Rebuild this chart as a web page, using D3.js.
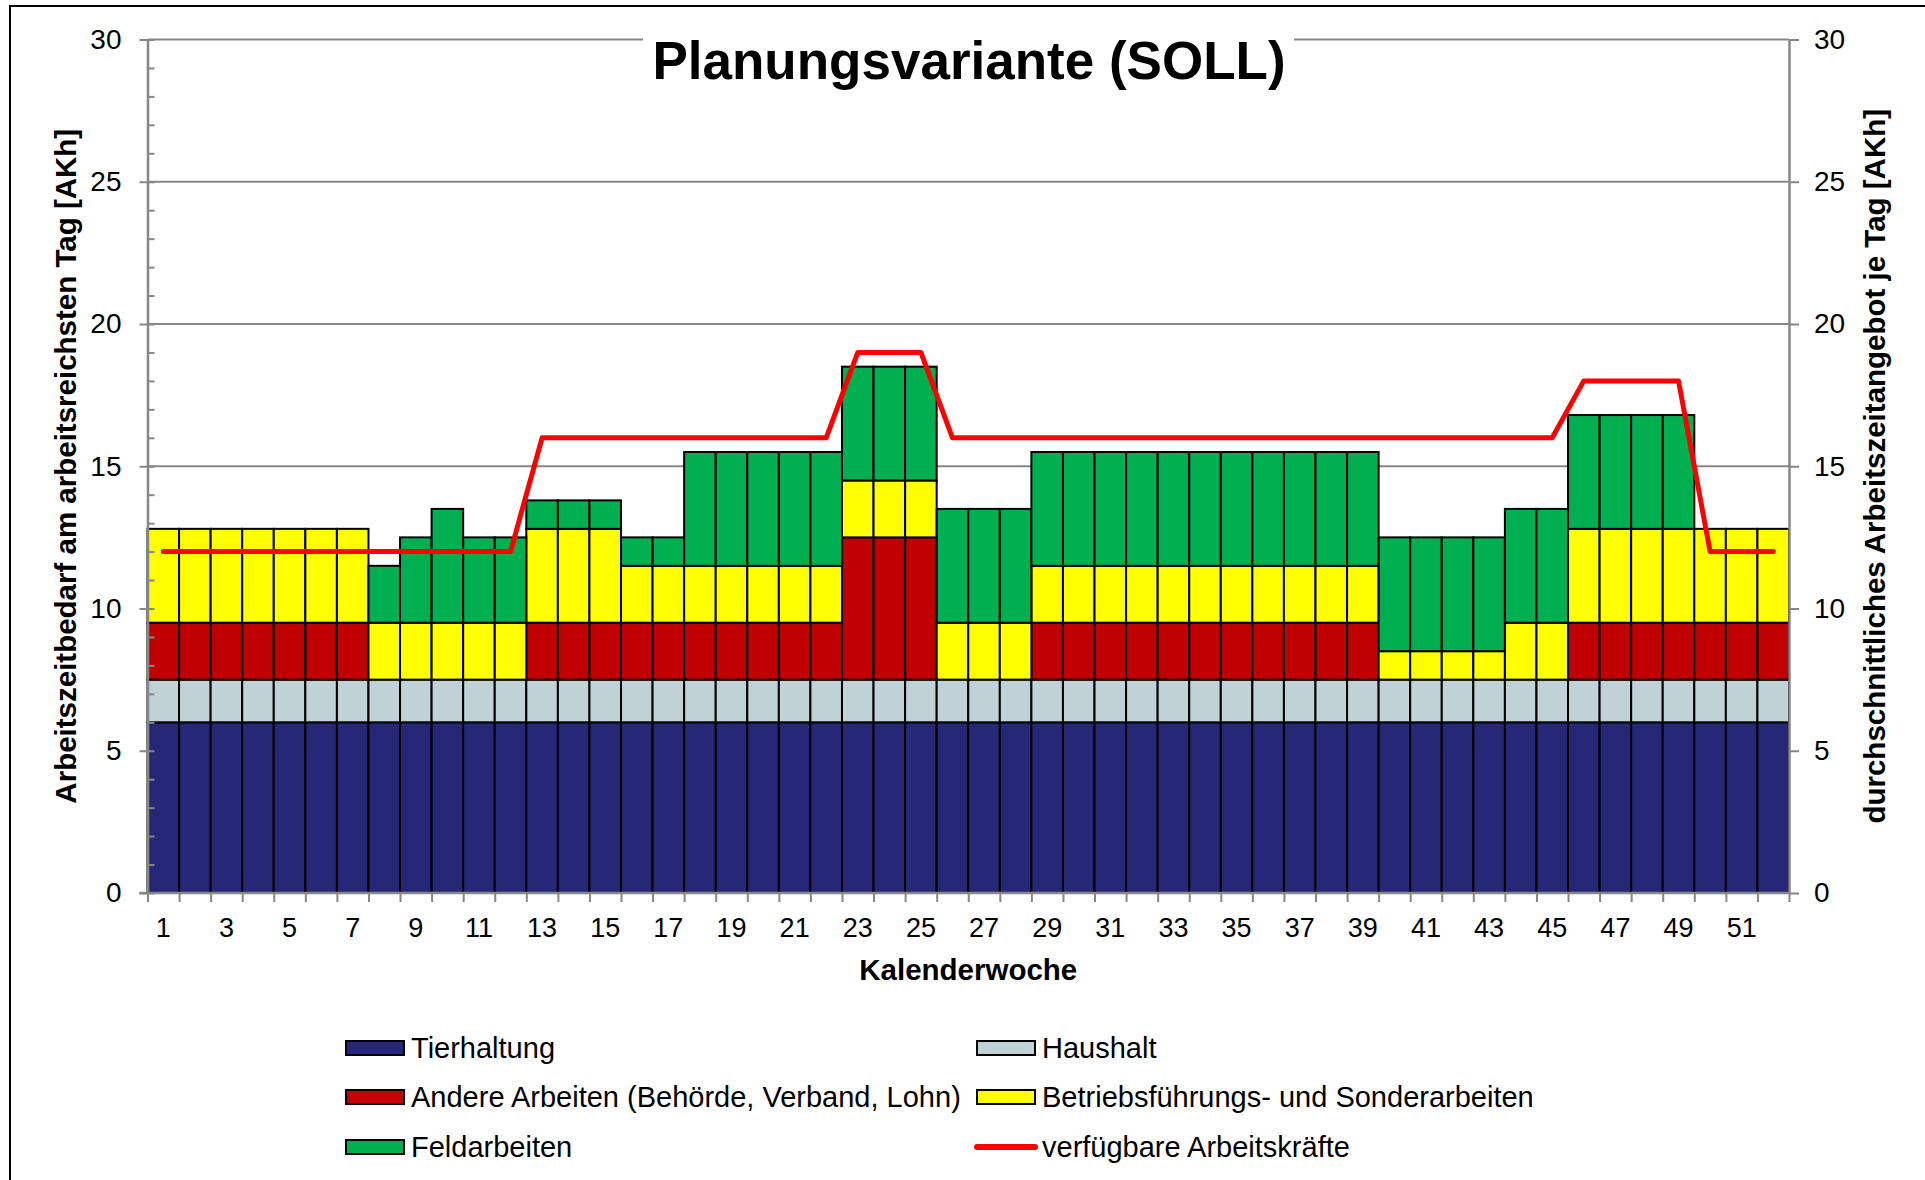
<!DOCTYPE html>
<html>
<head>
<meta charset="utf-8">
<script src="https://cdn.jsdelivr.net/npm/d3@7/dist/d3.min.js"></script>
<style>
  body { margin: 0; background: #fff; }
  svg text { font-family: "Liberation Sans", Arial, sans-serif; fill: #000; }
</style>
</head>
<body>
<div id="chart"></div>
<script>
// Kalenderwochen
const weeks = [1, 2, 3, 4, 5, 6, 7, 8, 9, 10, 11, 12, 13, 14, 15, 16, 17, 18, 19, 20, 21, 22, 23, 24, 25, 26,
               27, 28, 29, 30, 31, 32, 33, 34, 35, 36, 37, 38, 39, 40, 41, 42, 43, 44, 45, 46, 47, 48, 49, 50, 51, 52];

// AKh am arbeitsreichsten Tag, je Woche
const tierhaltung = [6, 6, 6, 6, 6, 6, 6, 6, 6, 6, 6, 6, 6, 6, 6, 6, 6, 6, 6, 6, 6, 6, 6, 6, 6, 6,
                     6, 6, 6, 6, 6, 6, 6, 6, 6, 6, 6, 6, 6, 6, 6, 6, 6, 6, 6, 6, 6, 6, 6, 6, 6, 6];
const haushalt = [1.5, 1.5, 1.5, 1.5, 1.5, 1.5, 1.5, 1.5, 1.5, 1.5, 1.5, 1.5, 1.5, 1.5, 1.5, 1.5, 1.5, 1.5, 1.5, 1.5, 1.5, 1.5, 1.5, 1.5, 1.5, 1.5,
                  1.5, 1.5, 1.5, 1.5, 1.5, 1.5, 1.5, 1.5, 1.5, 1.5, 1.5, 1.5, 1.5, 1.5, 1.5, 1.5, 1.5, 1.5, 1.5, 1.5, 1.5, 1.5, 1.5, 1.5, 1.5, 1.5];
const andereArbeiten = [2, 2, 2, 2, 2, 2, 2, 0, 0, 0, 0, 0, 2, 2, 2, 2, 2, 2, 2, 2, 2, 2, 5, 5, 5, 0,
                        0, 0, 2, 2, 2, 2, 2, 2, 2, 2, 2, 2, 2, 0, 0, 0, 0, 0, 0, 2, 2, 2, 2, 2, 2, 2];
const betriebsfuehrung = [3.3, 3.3, 3.3, 3.3, 3.3, 3.3, 3.3, 2, 2, 2, 2, 2, 3.3, 3.3, 3.3, 2, 2, 2, 2, 2, 2, 2, 2, 2, 2, 2,
                          2, 2, 2, 2, 2, 2, 2, 2, 2, 2, 2, 2, 2, 1, 1, 1, 1, 2, 2, 3.3, 3.3, 3.3, 3.3, 3.3, 3.3, 3.3];
const feldarbeiten = [0, 0, 0, 0, 0, 0, 0, 2, 3, 4, 3, 3, 1, 1, 1, 1, 1, 4, 4, 4, 4, 4, 4, 4, 4, 4,
                      4, 4, 4, 4, 4, 4, 4, 4, 4, 4, 4, 4, 4, 4, 4, 4, 4, 4, 4, 4, 4, 4, 4, 0, 0, 0];

// verfügbare Arbeitskräfte (Sekundärachse)
const arbeitskraefte = [12, 12, 12, 12, 12, 12, 12, 12, 12, 12, 12, 12, 16, 16, 16, 16, 16, 16, 16, 16, 16, 16, 19, 19, 19, 16,
                        16, 16, 16, 16, 16, 16, 16, 16, 16, 16, 16, 16, 16, 16, 16, 16, 16, 16, 16, 18, 18, 18, 18, 12, 12, 12];

const yTicks = [0, 5, 10, 15, 20, 25, 30];
const xTickLabels = [1, 3, 5, 7, 9, 11, 13, 15, 17, 19, 21, 23, 25, 27, 29, 31, 33, 35, 37, 39, 41, 43, 45, 47, 49, 51];

const seriesKeys = ["tier", "haus", "andere", "betrieb", "feld"];
const seriesNames = {
  tier: "Tierhaltung",
  haus: "Haushalt",
  andere: "Andere Arbeiten (Behörde, Verband, Lohn)",
  betrieb: "Betriebsführungs- und Sonderarbeiten",
  feld: "Feldarbeiten"
};
const seriesColors = {
  tier: "#262777",
  haus: "#C0D2D5",
  andere: "#C00000",
  betrieb: "#FFFF00",
  feld: "#00AF50"
};
const lineName = "verfügbare Arbeitskräfte";

const width = 1925, height = 1180;
const plotLeft = 147.5, plotRight = 1789, plotTop = 39.5, plotBottom = 893;
const axisColor = "#878787";

const rows = weeks.map((w, i) => ({
  week: w,
  tier: tierhaltung[i],
  haus: haushalt[i],
  andere: andereArbeiten[i],
  betrieb: betriebsfuehrung[i],
  feld: feldarbeiten[i],
  ak: arbeitskraefte[i]
}));

const svg = d3.select("#chart")
  .append("svg")
  .attr("width", width)
  .attr("height", height);

// outer frame (runs off the right / bottom edge like in the original)
svg.append("rect")
  .attr("x", 10).attr("y", 6)
  .attr("width", width + 20).attr("height", height + 20)
  .attr("fill", "#fff")
  .attr("stroke", "#000")
  .attr("stroke-width", 2);

const x = d3.scaleBand().domain(weeks).range([plotLeft, plotRight]).padding(0);
const xEdges = d3.scaleLinear().domain([0, weeks.length]).range([plotLeft, plotRight]);
const y = d3.scaleLinear().domain([0, 30]).range([plotBottom, plotTop]);
const y2 = d3.scaleLinear().domain([0, 30]).range([plotBottom, plotTop]); // secondary axis, same range

// gridlines
svg.append("g")
  .selectAll("line")
  .data(yTicks.filter(t => t > 0))
  .enter()
  .append("line")
  .attr("x1", plotLeft).attr("x2", plotRight)
  .attr("y1", d => y(d)).attr("y2", d => y(d))
  .attr("stroke", axisColor)
  .attr("stroke-width", 2);

// stacked bars
const stacked = d3.stack().keys(seriesKeys)(rows);
svg.append("g")
  .selectAll("g")
  .data(stacked)
  .enter()
  .append("g")
  .attr("fill", s => seriesColors[s.key])
  .selectAll("rect")
  .data(s => s.filter(d => d[1] - d[0] > 0))
  .enter()
  .append("rect")
  .attr("x", d => x(d.data.week))
  .attr("width", x.bandwidth())
  .attr("y", d => y(d[1]))
  .attr("height", d => y(d[0]) - y(d[1]))
  .attr("stroke", "#000")
  .attr("stroke-width", 2);

// available workers line
const line = d3.line()
  .x(d => x(d.week) + x.bandwidth() / 2)
  .y(d => y2(d.ak));
svg.append("path")
  .datum(rows)
  .attr("d", line)
  .attr("fill", "none")
  .attr("stroke", "#FF0000")
  .attr("stroke-width", 5)
  .attr("stroke-linejoin", "round")
  .attr("stroke-linecap", "round");

function styleAxis(g) {
  g.select(".domain").attr("stroke", axisColor).attr("stroke-width", 2.5);
  g.selectAll(".tick line").attr("stroke", axisColor).attr("stroke-width", 2);
  g.selectAll(".tick text").attr("font-family", "Liberation Sans, Arial, sans-serif").attr("fill", "#000");
}

// left axis: minor ticks inward, major outward
svg.append("g")
  .attr("transform", `translate(${plotLeft},0)`)
  .call(d3.axisLeft(y).tickValues(d3.range(0, 31, 1)).tickSize(-7).tickFormat(""))
  .call(g => g.select(".domain").remove())
  .call(g => g.selectAll(".tick line").attr("stroke", axisColor).attr("stroke-width", 2));
svg.append("g")
  .attr("transform", `translate(${plotLeft},0)`)
  .call(d3.axisLeft(y).tickValues(yTicks).tickSize(8).tickSizeOuter(0).tickPadding(18))
  .call(styleAxis)
  .call(g => g.selectAll(".tick text").attr("font-size", 28));

// right axis
svg.append("g")
  .attr("transform", `translate(${plotRight},0)`)
  .call(d3.axisRight(y2).tickValues(yTicks).tickSize(10).tickSizeOuter(0).tickPadding(15))
  .call(styleAxis)
  .call(g => g.selectAll(".tick text").attr("font-size", 28));

// bottom axis: tick marks at band edges, labels at odd weeks
svg.append("g")
  .attr("transform", `translate(0,${plotBottom})`)
  .call(d3.axisBottom(xEdges).tickValues(d3.range(0, weeks.length + 1)).tickSize(9).tickSizeOuter(0).tickFormat(""))
  .call(styleAxis)
  .call(g => g.select(".domain").attr("d", `M${plotLeft - 8},0H${plotRight}`));
svg.append("g")
  .attr("transform", `translate(0,${plotBottom})`)
  .call(d3.axisBottom(x).tickValues(xTickLabels).tickSize(0).tickPadding(25))
  .call(g => g.select(".domain").remove())
  .call(g => g.selectAll(".tick text").attr("font-size", 27).attr("font-family", "Liberation Sans, Arial, sans-serif"));

// axis titles
svg.append("text")
  .attr("transform", `translate(76,${(plotTop + plotBottom) / 2}) rotate(-90)`)
  .attr("text-anchor", "middle")
  .attr("font-size", 29.5)
  .attr("font-weight", "bold")
  .text("Arbeitszeitbedarf am arbeitsreichsten Tag [AKh]");
svg.append("text")
  .attr("transform", `translate(1885,${(plotTop + plotBottom) / 2}) rotate(-90)`)
  .attr("text-anchor", "middle")
  .attr("font-size", 29.5)
  .attr("font-weight", "bold")
  .text("durchschnittliches Arbeitszeitangebot je Tag [AKh]");
svg.append("text")
  .attr("x", (plotLeft + plotRight) / 2)
  .attr("y", 980)
  .attr("text-anchor", "middle")
  .attr("font-size", 29.5)
  .attr("font-weight", "bold")
  .text("Kalenderwoche");

// title with white box over the top gridline
svg.append("rect")
  .attr("x", 643).attr("y", 22)
  .attr("width", 651).attr("height", 80)
  .attr("fill", "#fff");
svg.append("text")
  .attr("x", 969)
  .attr("y", 79)
  .attr("text-anchor", "middle")
  .attr("font-size", 53)
  .attr("font-weight", "bold")
  .text("Planungsvariante (SOLL)");

// legend
const legendItems = [
  {key: "tier", col: 0, row: 0},
  {key: "haus", col: 1, row: 0},
  {key: "andere", col: 0, row: 1},
  {key: "betrieb", col: 1, row: 1},
  {key: "feld", col: 0, row: 2},
  {key: "line", col: 1, row: 2}
];
const legendColX = [346, 977];
const legendRowY = [1048, 1097, 1147];

const legend = svg.append("g")
  .selectAll("g")
  .data(legendItems)
  .enter()
  .append("g")
  .attr("transform", d => `translate(${legendColX[d.col]},${legendRowY[d.row]})`);

legend.filter(d => d.key !== "line")
  .append("rect")
  .attr("x", 0).attr("y", -7)
  .attr("width", 58).attr("height", 14)
  .attr("fill", d => seriesColors[d.key])
  .attr("stroke", "#000")
  .attr("stroke-width", 2);
legend.filter(d => d.key === "line")
  .append("line")
  .attr("x1", 0).attr("x2", 58)
  .attr("y1", 0).attr("y2", 0)
  .attr("stroke", "#FF0000")
  .attr("stroke-width", 6)
  .attr("stroke-linecap", "round");
legend.append("text")
  .attr("x", 65)
  .attr("y", 10)
  .attr("font-size", 29)
  .text(d => d.key === "line" ? lineName : seriesNames[d.key]);
</script>
</body>
</html>
